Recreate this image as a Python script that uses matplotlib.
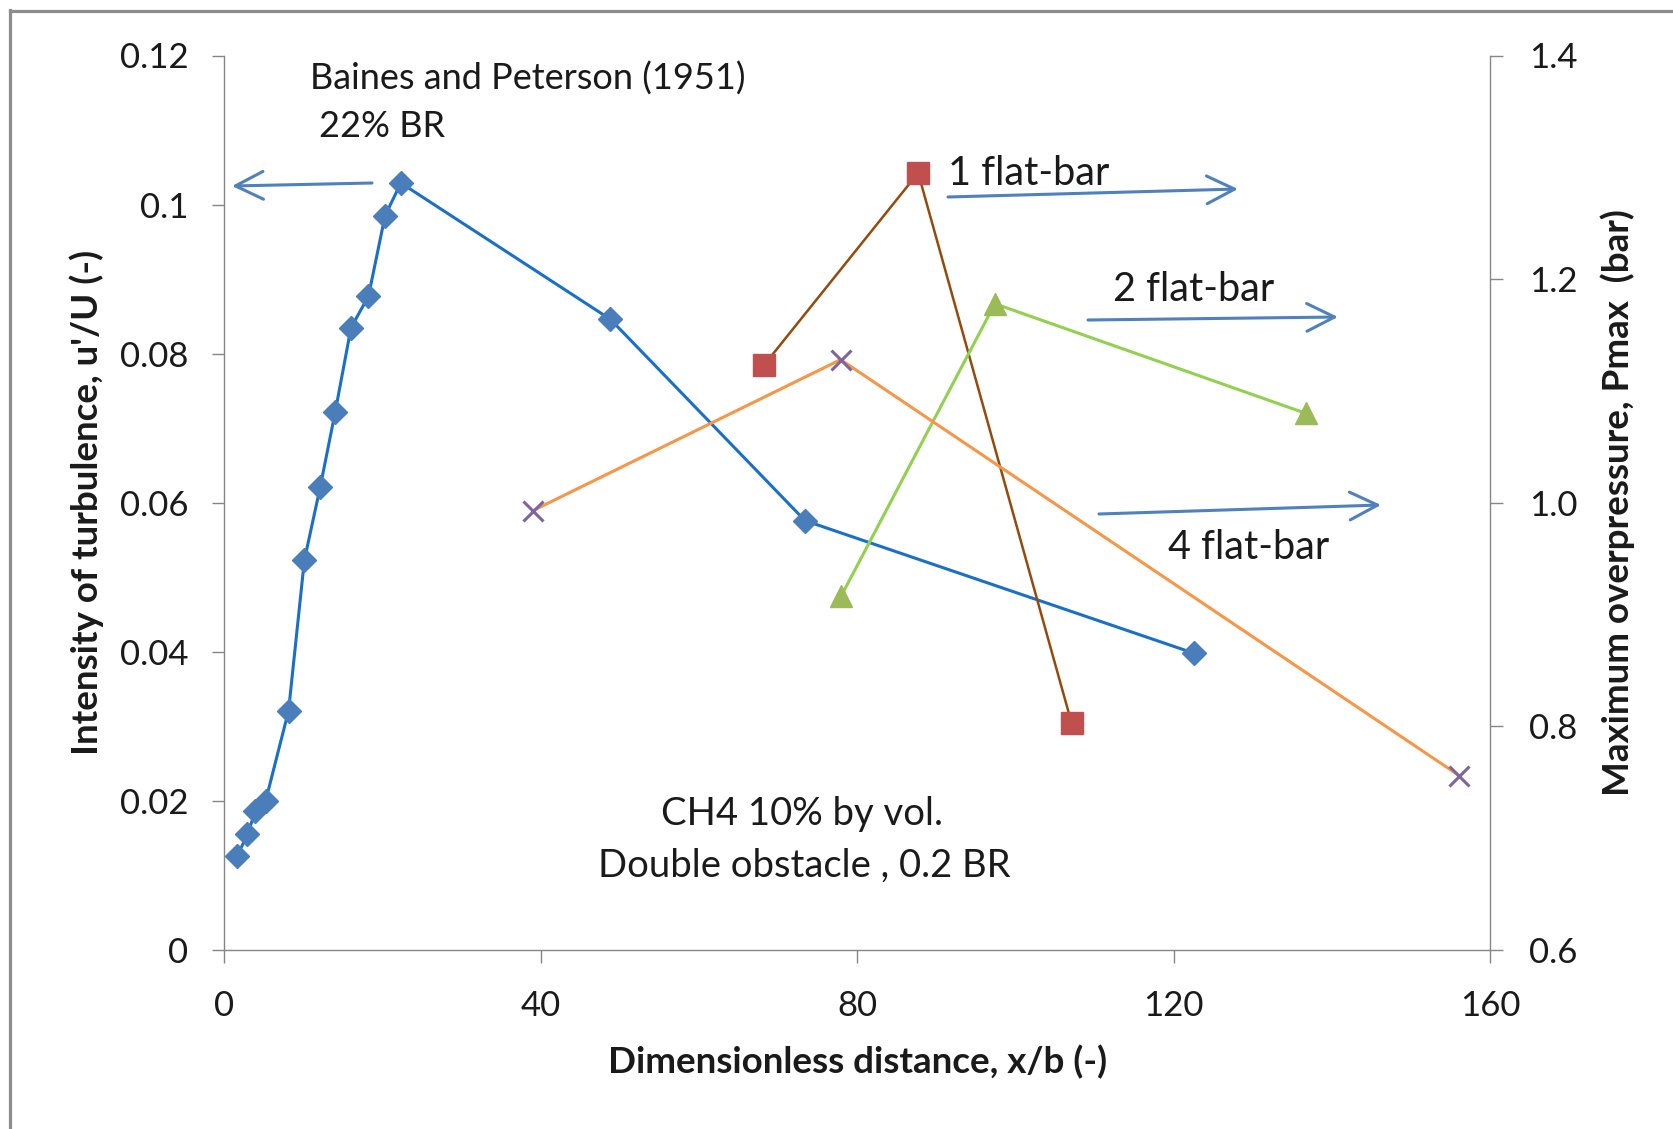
import matplotlib
matplotlib.use("Agg")
import matplotlib.pyplot as plt
from matplotlib.lines import Line2D
from matplotlib.patches import FancyArrowPatch

# Turbulence intensity downstream of an obstacle (Baines and Peterson, 1951)
turb_x = [1.6, 2.9, 3.9, 5.2, 8.1, 10.1, 12.1, 14.0, 16.0, 18.2, 20.3, 22.3, 48.8, 73.4, 122.6]
turb_y = [0.0126, 0.0155, 0.0186, 0.0200, 0.0321, 0.0523, 0.0621, 0.0722, 0.0835,
          0.0877, 0.0985, 0.1029, 0.0846, 0.0576, 0.0398]

# Maximum overpressure (bar) for the flat-bar configurations
bar1_x = [68.2, 87.7, 107.1]
bar1_p = [1.123, 1.295, 0.803]
bar2_x = [78.0, 97.4, 136.7]
bar2_p = [0.917, 1.178, 1.080]
bar4_x = [39.0, 77.9, 156.1]
bar4_p = [0.993, 1.128, 0.756]

x_ticks = [0, 40, 80, 120, 160]
left_ticks = [0, 0.02, 0.04, 0.06, 0.08, 0.10, 0.12]
left_labels = ["0", "0.02", "0.04", "0.06", "0.08", "0.1", "0.12"]
right_ticks = [0.6, 0.8, 1.0, 1.2, 1.4]
right_labels = ["0.6", "0.8", "1.0", "1.2", "1.4"]

W, H = 1674, 1129
FONT = "Lato"
AXIS_GREY = "#868686"
ARROW_BLUE = "#4F81BD"
TEXT = "#1a1a1a"

fig = plt.figure(figsize=(W / 100, H / 100), dpi=100)
fig.patch.set_facecolor("white")


def fx(px):
    return px / W


def fy(py):
    return 1 - py / H


ax = fig.add_axes([fx(224.5), fy(950), fx(1490) - fx(224.5), fy(55.5) - fy(950)])
ax2 = ax.twinx()

# left axis series
ax.plot(turb_x, turb_y, color="#1A6FC8", lw=2.2, marker="D", ms=12.5,
        mfc="#4A7EBB", mec="#4A7EBB", zorder=3)

# right axis series
ax2.plot(bar1_x, bar1_p, color="#954A0C", lw=1.8, marker="s", ms=15.5,
         mfc="#C0504D", mec="#C0504D", zorder=3)
ax2.plot(bar2_x, bar2_p, color="#92D050", lw=2.2, marker="^", ms=16,
         mfc="#9BBB59", mec="#9BBB59", zorder=3)
ax2.plot(bar4_x, bar4_p, color="#F79646", lw=2.2, zorder=3)
ax2.plot(bar4_x, bar4_p, ls="none", marker="x", ms=14, mew=2.2,
         color="#8064A2", zorder=4)

ax.set_xlim(0, 160)
ax.set_ylim(0, 0.12)
ax2.set_ylim(0.6, 1.4)

ax.set_xticks(x_ticks)
ax.set_xticklabels([str(v) for v in x_ticks])
ax.set_yticks(left_ticks)
ax.set_yticklabels(left_labels)
ax2.set_yticks(right_ticks)
ax2.set_yticklabels(right_labels)

for a in (ax, ax2):
    a.spines["top"].set_visible(False)
    for side in ("left", "right", "bottom"):
        a.spines[side].set_color(AXIS_GREY)
        a.spines[side].set_linewidth(1.0)
    a.tick_params(colors=AXIS_GREY, length=9, width=1.0, labelsize=25,
                  labelcolor=TEXT, direction="out")
    for lab in a.get_xticklabels() + a.get_yticklabels():
        lab.set_fontfamily(FONT)
ax.spines["right"].set_visible(False)
ax2.spines["left"].set_visible(False)
ax2.spines["bottom"].set_visible(False)
ax.tick_params(axis="y", pad=17)
ax.tick_params(axis="x", pad=20)
ax2.tick_params(axis="y", pad=19)

ax.set_xlabel("Dimensionless distance, x/b (-)", fontfamily=FONT, fontweight="bold",
              fontsize=26.5, color=TEXT)
ax.xaxis.set_label_coords(0.5, -0.106)
ax.set_ylabel("Intensity of turbulence, u'/U (-)", fontfamily=FONT, fontweight="bold",
              fontsize=26.5, color=TEXT)
ax.yaxis.set_label_coords(-0.095, 0.5)
ax2.set_ylabel("Maximum overpressure, Pmax  (bar)", fontfamily=FONT, fontweight="bold",
               fontsize=26.5, color=TEXT, rotation=90)
ax2.yaxis.set_label_coords(1.087, 0.5)

# annotations
txt = dict(transform=fig.transFigure, fontfamily=FONT, color=TEXT)
fig.text(fx(310), fy(90), "Baines and Peterson (1951)", fontsize=26, ha="left", va="baseline", **txt)
fig.text(fx(319), fy(137), "22% BR", fontsize=26, ha="left", va="baseline", **txt)
fig.text(fx(948), fy(185), "1 flat-bar", fontsize=28.5, ha="left", va="baseline", **txt)
fig.text(fx(1113), fy(301), "2 flat-bar", fontsize=28.5, ha="left", va="baseline", **txt)
fig.text(fx(1168), fy(559), "4 flat-bar", fontsize=28.5, ha="left", va="baseline", **txt)
fig.text(fx(802), fy(825), "CH4 10% by vol.", fontsize=27.5, ha="center", va="baseline", **txt)
fig.text(fx(804), fy(877), "Double obstacle , 0.2 BR", fontsize=27.5, ha="center", va="baseline", **txt)

arrows = [
    ((372, 183), (232, 186)),
    ((948, 197), (1238, 189)),
    ((1088, 320), (1338, 317)),
    ((1099, 514), (1381, 505)),
]
for (tx, ty), (hx, hy) in arrows:
    fig.add_artist(FancyArrowPatch(
        (fx(tx), fy(ty)), (fx(hx), fy(hy)), transform=fig.transFigure,
        arrowstyle="->,head_length=1.0,head_width=0.5", mutation_scale=20,
        color=ARROW_BLUE, lw=2.2, shrinkA=0, shrinkB=0))

# outer chart border
fig.add_artist(Line2D([fx(10), fx(10)], [fy(10), 0], transform=fig.transFigure,
                      color="#8c8c8c", lw=2.3, solid_capstyle="projecting"))
fig.add_artist(Line2D([fx(10), 1], [fy(10.5), fy(10.5)], transform=fig.transFigure,
                      color="#8c8c8c", lw=2.3, solid_capstyle="projecting"))

fig.savefig("out.png", dpi=100, facecolor="white")
